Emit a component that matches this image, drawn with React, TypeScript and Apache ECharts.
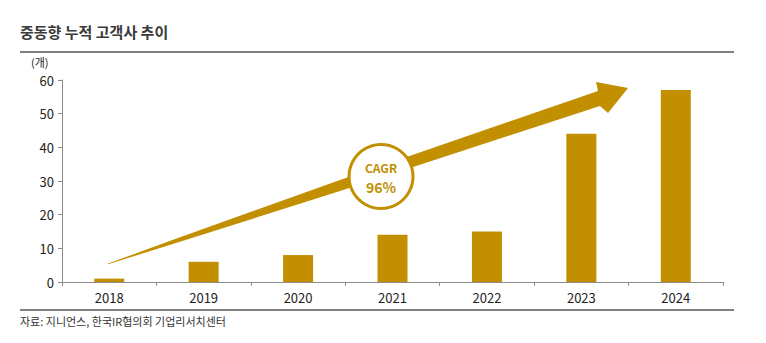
import React, { useEffect, useRef } from "react";
import * as echarts from "echarts";

const categories = ["2018", "2019", "2020", "2021", "2022", "2023", "2024"];
const customers = [1, 6, 8, 14, 15, 44, 57];
const titleText = "중동향 누적 고객사 추이";
const unitText = "(개)";
const sourceText = "자료: 지니언스, 한국IR협의회 기업리서치센터";
const cagrLabel = "CAGR";
const cagrValue = "96%";

const GOLD = "#C28F00";
const FONT = "'Noto Sans CJK KR', 'Noto Sans', sans-serif";

export default function App() {
  const ref = useRef<HTMLDivElement>(null);
  useEffect(() => {
    if (!ref.current) return;
    const chart = echarts.init(ref.current, null, { renderer: "svg" });
    chart.setOption({
      animation: false,
      backgroundColor: "#ffffff",
      textStyle: { fontFamily: FONT },
      grid: { left: 62, right: 43, top: 80, bottom: 61, containLabel: false },
      xAxis: {
        type: "category",
        data: categories,
        boundaryGap: true,
        axisLine: { lineStyle: { color: "#8c8c8c", width: 1 } },
        axisTick: { show: true, length: 4, lineStyle: { color: "#8c8c8c" } },
        axisLabel: { color: "#222", fontSize: 13, margin: 9, fontFamily: FONT },
      },
      yAxis: {
        type: "value",
        min: 0,
        max: 60,
        interval: 10,
        axisLine: { show: true, lineStyle: { color: "#8c8c8c", width: 1 } },
        axisTick: { show: true, length: 4, lineStyle: { color: "#8c8c8c" } },
        splitLine: { show: false },
        axisLabel: { color: "#222", fontSize: 13, margin: 8, fontFamily: FONT },
      },
      series: [
        {
          type: "bar",
          data: customers,
          barWidth: 30,
          itemStyle: { color: GOLD },
          z: 2,
        },
      ],
      graphic: [
        {
          type: "text",
          left: 20,
          top: 24,
          style: { text: titleText, fontSize: 15, fontWeight: "bold", fill: "#3a3a3a", fontFamily: FONT },
        },
        {
          type: "rect",
          shape: { x: 20, y: 51, width: 714, height: 2 },
          style: { fill: "#808080" },
        },
        {
          type: "text",
          left: 31,
          top: 56,
          style: { text: unitText, fontSize: 11, fill: "#222", fontFamily: FONT },
        },
        {
          type: "rect",
          shape: { x: 20, y: 309, width: 714, height: 2 },
          style: { fill: "#808080" },
        },
        {
          type: "text",
          left: 20,
          top: 315,
          style: { text: sourceText, fontSize: 11, fill: "#333", fontFamily: FONT },
        },
        {
          type: "polygon",
          z: 10,
          shape: {
            points: [
              [108, 263.6],
              [180, 237.2],
              [340, 180.0],
              [598, 90.9],
              [596, 82],
              [628, 88],
              [608, 113],
              [600, 105.9],
              [340, 191],
              [180, 241.8],
              [108, 264.2],
            ],
          },
          style: { fill: GOLD },
        },
        {
          type: "circle",
          z: 11,
          shape: { cx: 381, cy: 176.5, r: 32 },
          style: { fill: "#ffffff", stroke: GOLD, lineWidth: 3 },
        },
        {
          type: "text",
          z: 12,
          x: 381,
          y: 167,
          style: {
            text: cagrLabel,
            fontSize: 12,
            fontWeight: "bold",
            fill: GOLD,
            align: "center",
            verticalAlign: "middle",
            fontFamily: FONT,
          },
        },
        {
          type: "text",
          z: 12,
          x: 381,
          y: 187,
          style: {
            text: cagrValue,
            fontSize: 14,
            fontWeight: "bold",
            fill: GOLD,
            align: "center",
            verticalAlign: "middle",
            fontFamily: FONT,
          },
        },
      ],
    });
    return () => chart.dispose();
  }, []);
  return (
    <div
      ref={ref}
      style={{ position: "fixed", left: 0, top: 0, width: 766, height: 343, background: "#fff" }}
    />
  );
}
